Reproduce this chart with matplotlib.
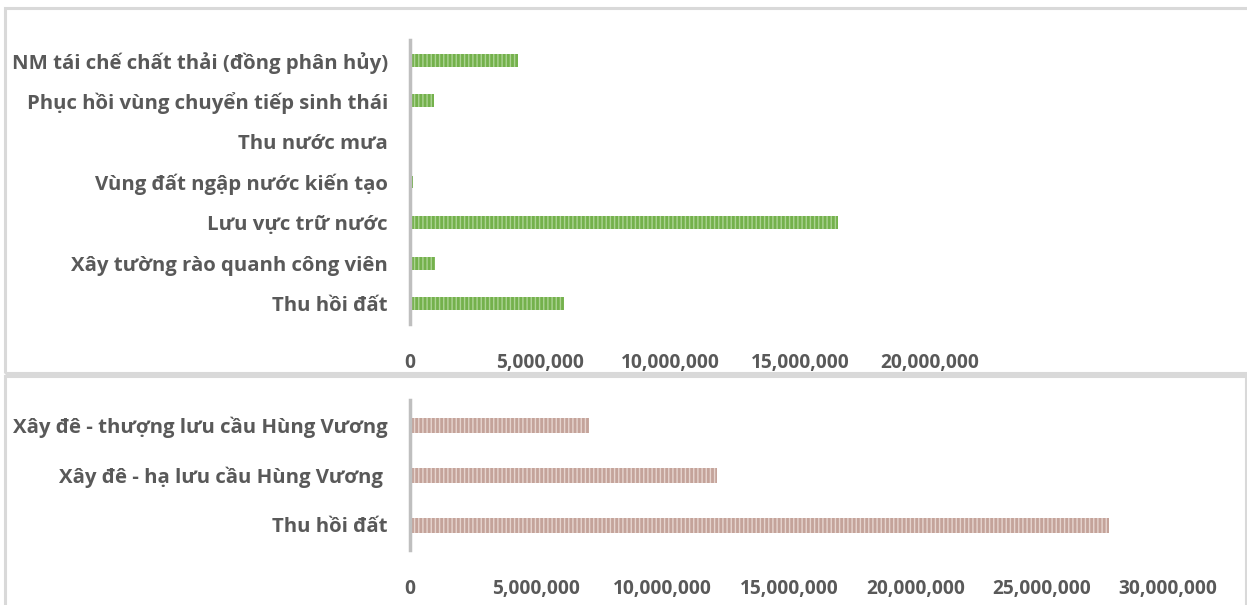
import matplotlib
matplotlib.use('Agg')
import matplotlib.pyplot as plt
from matplotlib.patches import Rectangle
from matplotlib.ticker import FuncFormatter

plt.rcParams['font.family'] = ['Open Sans', 'DejaVu Sans']
plt.rcParams['hatch.linewidth'] = 1.0

# top panel
top_labels = ['NM tái chế chất thải (đồng phân hủy)',
              'Phục hồi vùng chuyển tiếp sinh thái',
              'Thu nước mưa',
              'Vùng đất ngập nước kiến tạo',
              'Lưu vực trữ nước',
              'Xây tường rào quanh công viên',
              'Thu hồi đất']
top_values = [4150000, 920000, 0, 110000, 16460000, 960000, 5920000]

# bottom panel
bot_labels = ['Xây đê - thượng lưu cầu Hùng Vương',
              'Xây đê - hạ lưu cầu Hùng Vương ',
              'Thu hồi đất']
bot_values = [7070000, 12170000, 27650000]

W, H = 1247, 605
fig = plt.figure(figsize=(W / 100, H / 100), dpi=100)

# panel borders
for (x0, y0, x1, y1) in [(5, 8, 1252, 373), (5, 376, 1246, 610)]:
    fig.patches.append(Rectangle((x0 / W, 1 - y1 / H), (x1 - x0) / W, (y1 - y0) / H,
                                 transform=fig.transFigure, fill=False,
                                 edgecolor='#d9d9d9', linewidth=2.2))

fmt = FuncFormatter(lambda v, p: '{:,.0f}'.format(v))
txt = '#595959'


def panel(rect, labels, values, xmax, step, face, stripe, barh):
    ax = fig.add_axes(rect)
    n = len(labels)
    ypos = list(range(n))[::-1]
    ax.barh(ypos, values, height=barh, color=face, edgecolor=stripe,
            hatch='||||', linewidth=0)
    ax.set_ylim(-0.5, n - 0.5)
    ax.set_xlim(0, xmax)
    ax.set_yticks(ypos)
    ax.set_yticklabels(labels)
    ax.set_xticks(range(0, xmax + 1, step))
    ax.xaxis.set_major_formatter(fmt)
    for s in ['top', 'right', 'bottom']:
        ax.spines[s].set_visible(False)
    ax.spines['left'].set_color('#bfbfbf')
    ax.spines['left'].set_linewidth(2.5)
    ax.tick_params(axis='y', length=0, pad=16, labelsize=14.7, labelcolor=txt)
    ax.tick_params(axis='x', length=0, pad=21, labelsize=13.8, labelcolor=txt)
    for t in ax.get_yticklabels() + ax.get_xticklabels():
        t.set_fontweight('bold')
    return ax


panel([410 / W, 1 - 324 / H, 520 / W, 284 / H], top_labels, top_values,
      20000000, 5000000, '#74b14c', '#acd393', 0.32)
panel([410 / W, 1 - 550 / H, 758 / W, 150 / H], bot_labels, bot_values,
      30000000, 5000000, '#c4a39a', '#e6d4ce', 0.3)

fig.savefig('out.png', dpi=100)
